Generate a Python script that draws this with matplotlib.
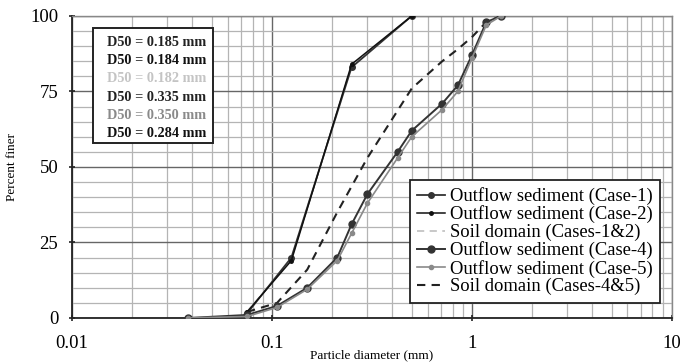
import numpy as np
import matplotlib
matplotlib.use('Agg')
from matplotlib import pyplot as plt
from matplotlib.patches import Rectangle
from matplotlib.ticker import LogLocator, MultipleLocator, NullFormatter

# grain size distributions (diameter in mm, percent finer)
d_case1 = [0.075, 0.125, 0.25, 0.5]
p_case1 = [1.5, 20, 83, 100]
d_case2 = [0.075, 0.125, 0.25, 0.5]
p_case2 = [2, 19, 84, 100]
d_soil12 = [0.075, 0.125, 0.25, 0.5]
p_soil12 = [2, 19.5, 83.5, 100]
d_case4 = [0.038, 0.075, 0.106, 0.15, 0.212, 0.25, 0.3, 0.425, 0.5, 0.71, 0.85, 1.0, 1.18, 1.4]
p_case4 = [0, 1, 4, 10, 20, 31, 41, 55, 62, 71, 77, 87, 98, 100]
d_case5 = [0.038, 0.075, 0.106, 0.15, 0.212, 0.25, 0.3, 0.425, 0.5, 0.71, 0.85, 1.0, 1.18, 1.4]
p_case5 = [0, 0.5, 3.5, 9.5, 19, 28, 38, 53, 60, 69, 75, 86, 97, 100]
d_soil45 = [0.075, 0.106, 0.15, 0.212, 0.3, 0.5, 0.71, 0.85, 1.0, 1.18, 1.4]
p_soil45 = [2, 5, 16, 35, 53, 76, 85, 89, 93, 98, 100]

d50_labels = ['D50 = 0.185 mm', 'D50 = 0.184 mm', 'D50 = 0.182 mm',
              'D50 = 0.335 mm', 'D50 = 0.350 mm', 'D50 = 0.284 mm']
d50_colors = ['#222222', '#111111', '#c4c4c4', '#222222', '#8a8a8a', '#111111']

plt.rcParams['font.family'] = ['Liberation Serif', 'DejaVu Serif']

fig = plt.figure(figsize=(6.8, 3.63), dpi=100)
ax = fig.add_axes([0.106, 0.124, 0.882, 0.832])

ax.plot(d_case1, p_case1, '-o', color='#333333', lw=1.3, ms=4, label='Outflow sediment (Case-1)', zorder=4)
ax.plot(d_case2, p_case2, '-o', color='#111111', lw=1.1, ms=2.5, label='Outflow sediment (Case-2)', zorder=4)
ax.plot(d_soil12, p_soil12, '--', color='#c4c4c4', lw=1.3, dashes=(4, 3), label='Soil domain (Cases-1&2)', zorder=3)
ax.plot(d_case4, p_case4, '-o', color='#333333', lw=1.4, ms=5, label='Outflow sediment (Case-4)', zorder=4)
ax.plot(d_case5, p_case5, '-o', color='#8a8a8a', lw=1.2, ms=3, label='Outflow sediment (Case-5)', zorder=4)
ax.plot(d_soil45, p_soil45, '--', color='#222222', lw=1.5, dashes=(4, 3), label='Soil domain (Cases-4&5)', zorder=3)

ax.set_xscale('log')
ax.set_xlim(0.01, 10)
ax.set_ylim(0, 100)
ax.xaxis.set_minor_locator(LogLocator(base=10, subs=np.arange(2, 10), numticks=20))
ax.xaxis.set_minor_formatter(NullFormatter())
ax.set_xticks([0.01, 0.1, 1, 10])
ax.set_xticklabels(['0.01', '0.1', '1', '10'])
ax.yaxis.set_major_locator(MultipleLocator(25))
ax.yaxis.set_minor_locator(MultipleLocator(5))

ax.grid(True, which='major', color='#666666', lw=1.0)
ax.grid(True, which='minor', color='#b4b4b4', lw=0.9)
ax.set_axisbelow(True)

for s in ['left', 'bottom']:
    ax.spines[s].set_color('#222222')
    ax.spines[s].set_linewidth(1.3)
for s in ['top', 'right']:
    ax.spines[s].set_color('#888888')
    ax.spines[s].set_linewidth(1.0)

ax.tick_params(axis='both', which='major', labelsize=13.5, length=4, width=1.2, color='#222222', direction='inout')
ax.tick_params(axis='both', which='minor', length=0)
ax.tick_params(axis='x', pad=10)
ax.tick_params(axis='y', pad=8)

fig.text(0.547, 0.004, 'Particle diameter (mm)', fontsize=9.5, ha='center', va='bottom')
ax.set_ylabel('Percent finer', fontsize=9.5, labelpad=9)

leg = ax.legend(loc='lower right', bbox_to_anchor=(0.98, 0.05), fontsize=13.4, handlelength=1.5,
                handletextpad=0.25, labelspacing=0.02, borderpad=0.4, borderaxespad=0,
                fancybox=False, framealpha=1, edgecolor='#222222')
leg.get_frame().set_linewidth(1.3)

# D50 box
ax.add_patch(Rectangle((0.035, 0.579), 0.2, 0.381, transform=ax.transAxes,
                       fc='white', ec='#222222', lw=1.4, zorder=5))
for i, (lab, col) in enumerate(zip(d50_labels, d50_colors)):
    ax.text(0.224, 0.912 - i * 0.0603, lab, transform=ax.transAxes, va='center', ha='right',
            fontsize=10.3, fontweight='bold', color=col, zorder=6)

fig.savefig('out.png', dpi=100)
